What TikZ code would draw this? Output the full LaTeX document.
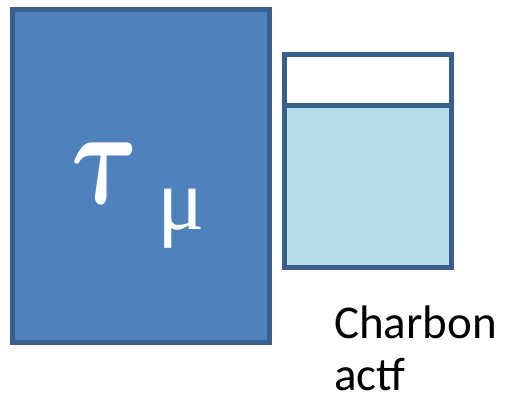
\documentclass[tikz,border=0pt]{standalone}
\usepackage{fontspec}
\setmainfont{Carlito}
\newfontfamily\greekfont{Liberation Serif}
\font\taufont=cmmib10 at 130pt
\definecolor{boxblue}{HTML}{4F81BD}
\definecolor{boxedge}{HTML}{3A5F8B}
\definecolor{water}{HTML}{B7DEE8}
\begin{document}
\begin{tikzpicture}[x=1pt,y=-1pt,
    box/.style={draw=boxedge,line width=5pt,outer sep=0pt,inner sep=0pt},
    label/.style={anchor=base west,inner sep=0pt,font=\fontsize{47}{57}\selectfont}]
    \useasboundingbox (0,0) rectangle (507,401);
    \node[box,fill=boxblue,minimum width=257pt,minimum height=333pt] (tank) at (141,176.5) {};
    \node[box,fill=white,minimum width=167pt,minimum height=212.5pt] (cup) at (368,161.25) {};
    \coordinate (level) at (368,105.5);
    \fill[water] (cup.west |- level) rectangle (cup.south east);
    \draw[boxedge,line width=5pt] (cup.north west) rectangle (cup.south east);
    \draw[boxedge,line width=5pt] (cup.west |- level) -- (cup.east |- level);
    % tau mu
    \node[text=white,inner sep=0pt,xslant=-0.12,transform shape] (tau) at (100,173) {\scalebox{0.8}[1.05]{\taufont\char"1C}};
    \node[text=white,anchor=base,inner sep=0pt,font=\fontsize{88}{88}\greekfont] (mu) at (181,230) {μ};
    \node[label] (charbon) at (334,338) {Charbon};
    \node[label] (actf) at (334,391) {actf};
\end{tikzpicture}
\end{document}
